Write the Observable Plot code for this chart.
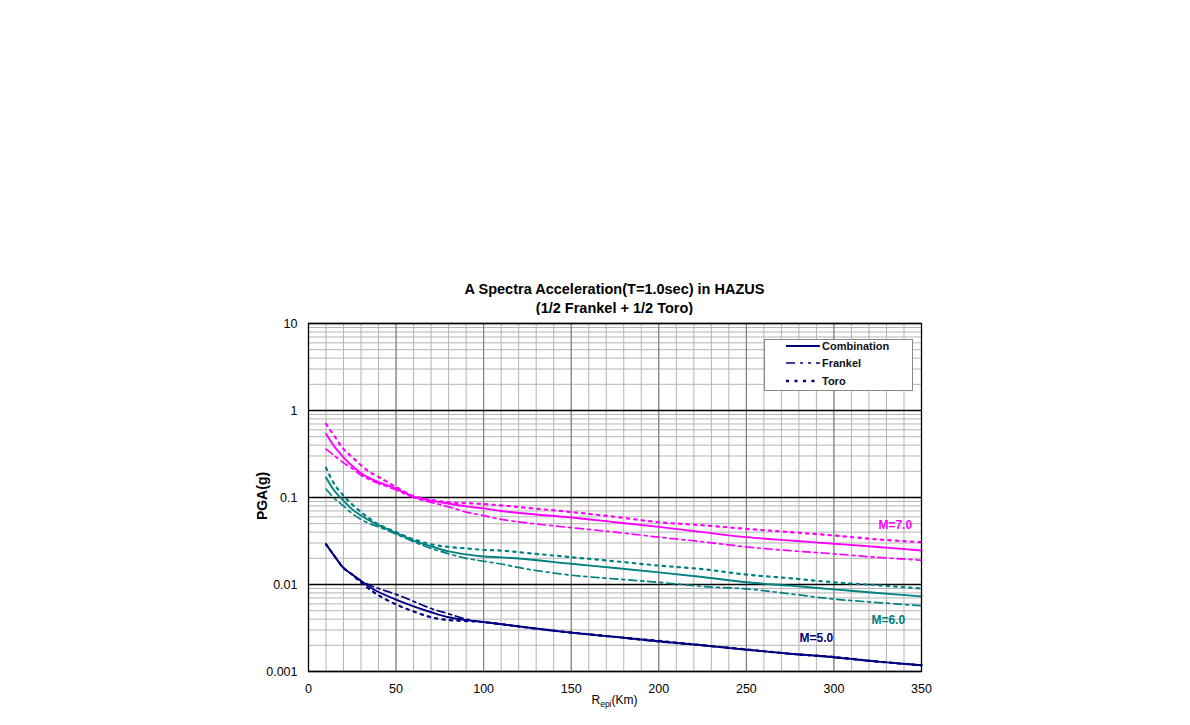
<!DOCTYPE html>
<html>
<head>
<meta charset="utf-8">
<script src="https://cdn.jsdelivr.net/npm/d3@7"></script>
<script src="https://cdn.jsdelivr.net/npm/@observablehq/plot@0.6"></script>
<style>
  html, body { margin: 0; padding: 0; background: #fff; }
  body { width: 1190px; height: 725px; position: relative; overflow: hidden;
         font-family: "Liberation Sans", Arial, sans-serif; }
  #title { position: absolute; left: 308px; width: 613px; top: 280px; text-align: center;
           font-weight: bold; font-size: 14.5px; line-height: 19px; color: #000; }
  #chart { position: absolute; left: 250px; top: 315px; }
  #ylabel { position: absolute; left: 262px; top: 496px; transform: translate(-50%, -50%) rotate(-90deg);
            font-weight: bold; font-size: 14px; white-space: nowrap; }
  #xlabel { position: absolute; left: 308px; width: 613px; top: 693px; text-align: center; font-size: 12px; }
  #xlabel sub { font-size: 8.5px; }
  #legend { position: absolute; left: 764px; top: 339px; width: 147px; height: 50px;
            border: 1px solid #888; background: #fff; }
  #legend .row { position: absolute; left: 0; height: 14px; display: flex; align-items: center; }
  #legend svg { margin-left: 21px; }
  #legend span { font-size: 11px; font-weight: bold; margin-left: 2px; color: #111; }
</style>
</head>
<body>
<div id="title">A Spectra Acceleration(T=1.0sec) in HAZUS<br>(1/2 Frankel + 1/2 Toro)</div>
<div id="chart"></div>
<div id="ylabel">PGA(g)</div>
<div id="xlabel">R<sub>epi</sub>(Km)</div>
<div id="legend">
  <div class="row" style="top:-1px"><svg width="34" height="6"><line x1="0" y1="3" x2="34" y2="3" stroke="#000080" stroke-width="2"/></svg><span>Combination</span></div>
  <div class="row" style="top:16px"><svg width="34" height="6"><line x1="0" y1="3" x2="34" y2="3" stroke="#000080" stroke-width="1.5" stroke-dasharray="9,5,3,5,3,5"/></svg><span>Frankel</span></div>
  <div class="row" style="top:34px"><svg width="34" height="6"><line x1="0" y1="3" x2="34" y2="3" stroke="#000080" stroke-width="2.5" stroke-dasharray="3,5.5"/></svg><span>Toro</span></div>
</div>
<script>
// Epicentral distance (km)
const distance = [10, 15, 20, 25, 30, 35, 40, 50, 60, 70, 80, 90, 100, 110, 125, 150, 175, 200, 225, 250, 275, 300, 325, 350];

// M = 7.0
const comb7    = [0.54, 0.38, 0.29, 0.23, 0.19, 0.167, 0.150, 0.126, 0.102, 0.092, 0.085, 0.079, 0.075, 0.070, 0.065, 0.059, 0.052, 0.046, 0.040, 0.035, 0.032, 0.0294, 0.027, 0.0246];
const frankel7 = [0.36, 0.30, 0.25, 0.215, 0.18, 0.16, 0.145, 0.122, 0.100, 0.088, 0.078, 0.068, 0.062, 0.056, 0.051, 0.045, 0.040, 0.035, 0.031, 0.027, 0.0245, 0.0225, 0.0205, 0.019];
const toro7    = [0.70, 0.50, 0.36, 0.29, 0.235, 0.195, 0.172, 0.132, 0.104, 0.094, 0.088, 0.086, 0.084, 0.081, 0.076, 0.068, 0.060, 0.052, 0.048, 0.0436, 0.040, 0.0366, 0.033, 0.0306];

// M = 6.0
const comb6    = [0.17, 0.118, 0.092, 0.073, 0.062, 0.054, 0.048, 0.039, 0.032, 0.0275, 0.024, 0.0222, 0.021, 0.0205, 0.0195, 0.0173, 0.0155, 0.0138, 0.0122, 0.0106, 0.0097, 0.0088, 0.008, 0.0073];
const frankel6 = [0.125, 0.097, 0.080, 0.065, 0.056, 0.050, 0.046, 0.038, 0.031, 0.026, 0.0225, 0.020, 0.0185, 0.0172, 0.015, 0.0128, 0.0116, 0.0106, 0.0095, 0.0089, 0.0078, 0.0068, 0.0062, 0.0057];
const toro6    = [0.22, 0.14, 0.105, 0.083, 0.068, 0.057, 0.049, 0.040, 0.033, 0.029, 0.027, 0.026, 0.025, 0.0245, 0.023, 0.0206, 0.0185, 0.0165, 0.015, 0.013, 0.0118, 0.0106, 0.0098, 0.009];

// M = 5.0
const comb5    = [0.029, 0.021, 0.0155, 0.013, 0.011, 0.0093, 0.0082, 0.0067, 0.0056, 0.0048, 0.0042, 0.0039, 0.0037, 0.0035, 0.0032, 0.0028, 0.0025, 0.00223, 0.002, 0.00178, 0.0016, 0.00146, 0.0013, 0.00118];
const frankel5 = [0.029, 0.021, 0.0155, 0.013, 0.011, 0.0098, 0.0090, 0.0077, 0.0064, 0.0053, 0.0046, 0.0040, 0.0037, 0.0035, 0.0032, 0.0028, 0.0025, 0.0022, 0.002, 0.00178, 0.0016, 0.00145, 0.0013, 0.00118];
const toro5    = [0.029, 0.021, 0.0155, 0.013, 0.0105, 0.0088, 0.0075, 0.0059, 0.0049, 0.0042, 0.0039, 0.0038, 0.0037, 0.0035, 0.0032, 0.0028, 0.0025, 0.00225, 0.002, 0.0018, 0.0016, 0.00147, 0.0013, 0.00118];

// Axis ticks
const xTicks = [0, 50, 100, 150, 200, 250, 300, 350];
const yTicks = [0.001, 0.01, 0.1, 1, 10];

// Magnitude labels
const magLabels = [
  {x: 335, y: 0.048, text: "M=7.0", color: "#ff00ff"},
  {x: 331, y: 0.0039, text: "M=6.0", color: "#008080"},
  {x: 290, y: 0.0024, text: "M=5.0", color: "#000080"}
];

const xMinor = d3.range(0, 351, 10);
const yMinor = [];
for (const d of [0.001, 0.01, 0.1, 1]) for (let k = 2; k <= 9; k++) yMinor.push(d * k);

const groups = [
  {color: "#ff00ff", comb: comb7, frankel: frankel7, toro: toro7},
  {color: "#008080", comb: comb6, frankel: frankel6, toro: toro6},
  {color: "#000080", comb: comb5, frankel: frankel5, toro: toro5}
];

const lineMarks = [];
for (const g of groups) {
  const mk = arr => distance.map((x, i) => ({x, y: arr[i]}));
  lineMarks.push(Plot.line(mk(g.frankel), {x: "x", y: "y", stroke: g.color, strokeWidth: 1.7, strokeDasharray: "8,4,3,4", curve: "catmull-rom"}));
  lineMarks.push(Plot.line(mk(g.toro), {x: "x", y: "y", stroke: g.color, strokeWidth: 2.2, strokeDasharray: "2.5,5", curve: "catmull-rom"}));
  lineMarks.push(Plot.line(mk(g.comb), {x: "x", y: "y", stroke: g.color, strokeWidth: 1.9, curve: "catmull-rom"}));
}

const chart = Plot.plot({
  width: 690,
  height: 400,
  marginLeft: 58,
  marginRight: 19,
  marginTop: 8,
  marginBottom: 44,
  style: {fontFamily: "'Liberation Sans', Arial, sans-serif", fontSize: "12.5px", background: "#fff", color: "#000"},
  x: {domain: [0, 350], ticks: xTicks, tickSize: 0, tickPadding: 13, label: null},
  y: {type: "log", domain: [0.001, 10], ticks: yTicks, tickSize: 0, tickPadding: 11, tickFormat: d => String(d), label: null},
  marks: [
    Plot.ruleY(yMinor, {stroke: "#b4b4b4", strokeWidth: 1}),
    Plot.ruleX(xMinor, {stroke: "#b4b4b4", strokeWidth: 1}),
    Plot.ruleX(xTicks, {stroke: "#777", strokeWidth: 1}),
    Plot.ruleY(yTicks, {stroke: "#000", strokeWidth: 1.3}),
    ...lineMarks,
    Plot.text(magLabels, {x: "x", y: "y", text: "text", fill: d => d.color, fontSize: 12, fontWeight: "bold"}),
    Plot.frame({stroke: "#000", strokeWidth: 1.3})
  ]
});
document.getElementById("chart").appendChild(chart);
</script>
</body>
</html>
